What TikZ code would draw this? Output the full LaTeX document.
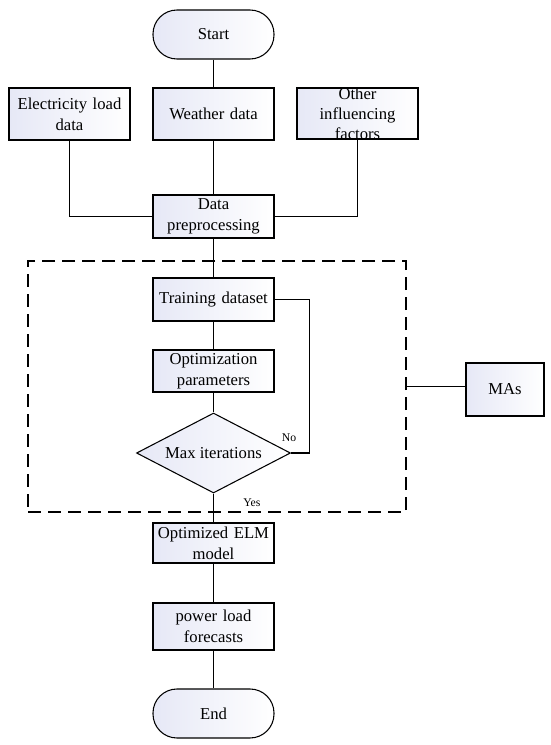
\documentclass[tikz,border=0pt]{standalone}
\usepackage{fontspec}
\setmainfont{Liberation Serif}
\usepackage{tikz}
\usetikzlibrary{shapes.geometric}
\definecolor{boxtint}{RGB}{230,232,246}

\begin{document}
\begin{tikzpicture}[
   x=0.75pt,y=-0.75pt,line width=0.8pt,
   box/.style={draw,left color=boxtint,right color=white,minimum width=90.75pt,
     text width=85.5pt,align=center,inner xsep=2.5pt,inner ysep=1pt,
     font=\fontsize{12.5}{15.75}\selectfont},
   term/.style={box,rounded corners=18pt,minimum height=36.75pt},
   test/.style={draw,diamond,aspect=1.9,left color=boxtint,right color=white,
     minimum width=115.5pt,minimum height=60pt,inner sep=0pt,
     font=\fontsize{12.5}{15.75}\selectfont},
   tag/.style={inner sep=0pt,font=\fontsize{8.8}{10}\selectfont}]
  \useasboundingbox (0,0) rectangle (550,745);
  \node[term] (start) at (213.5,34.5) {Start};
  \node[box,minimum height=39pt] (elec) at (69.5,114) {Electricity load\\data};
  \node[box,minimum height=39pt] (weather) at (213.5,114) {Weather data};
  \node[box,minimum height=38.25pt] (other) at (357.5,113.5) {};
  \node[align=center,text width=85.5pt,inner sep=0pt,font=\fontsize{12.5}{15}\selectfont] (othertext) at (other) {Other\\influencing\\factors};
  \node[box,minimum height=32.25pt] (prep) at (213.5,216.5) {Data\\preprocessing};
  \node[draw,dash pattern=on 10pt off 5pt,line width=1.1pt,minimum width=283.5pt,
     minimum height=188.25pt,inner sep=0pt] (mabox) at (217,386.5) {};
  \node[box,minimum height=32.25pt] (train) at (213.5,299.5) {Training dataset};
  \node[box,minimum height=31.5pt] (optim) at (213.5,371) {Optimization\\parameters};
  \node[test] (maxit) at (213.5,453) {Max iterations};
  \node[box,minimum height=30pt] (elm) at (213.5,543) {Optimized ELM\\model};
  \node[box,minimum height=35.25pt] (fcst) at (213.5,626.5) {power load\\forecasts};
  \node[term] (end) at (213.5,713.5) {End};
  \node[box,minimum width=58.5pt,text width=52pt,minimum height=39.75pt] (mas) at (505,389.5) {MAs};
  \draw (start)--(weather);
  \draw (weather)--(prep);
  \draw (elec.south) |- (prep.west);
  \draw (other.south) |- (prep.east);
  \draw (prep)--(train);
  \draw (train)--(optim);
  \draw (optim)--(maxit);
  \draw (maxit)--node[tag,pos=0.3,right=22pt]{Yes}(elm);
  \draw (elm)--(fcst);
  \draw (fcst)--(end);
  \draw (maxit.east) node[tag,above=8pt,xshift=-1.5pt]{No} -- ++(18,0) |- (train.east);
  \draw (mabox.east)--(mabox.east -| mas.west);
\end{tikzpicture}
\end{document}
